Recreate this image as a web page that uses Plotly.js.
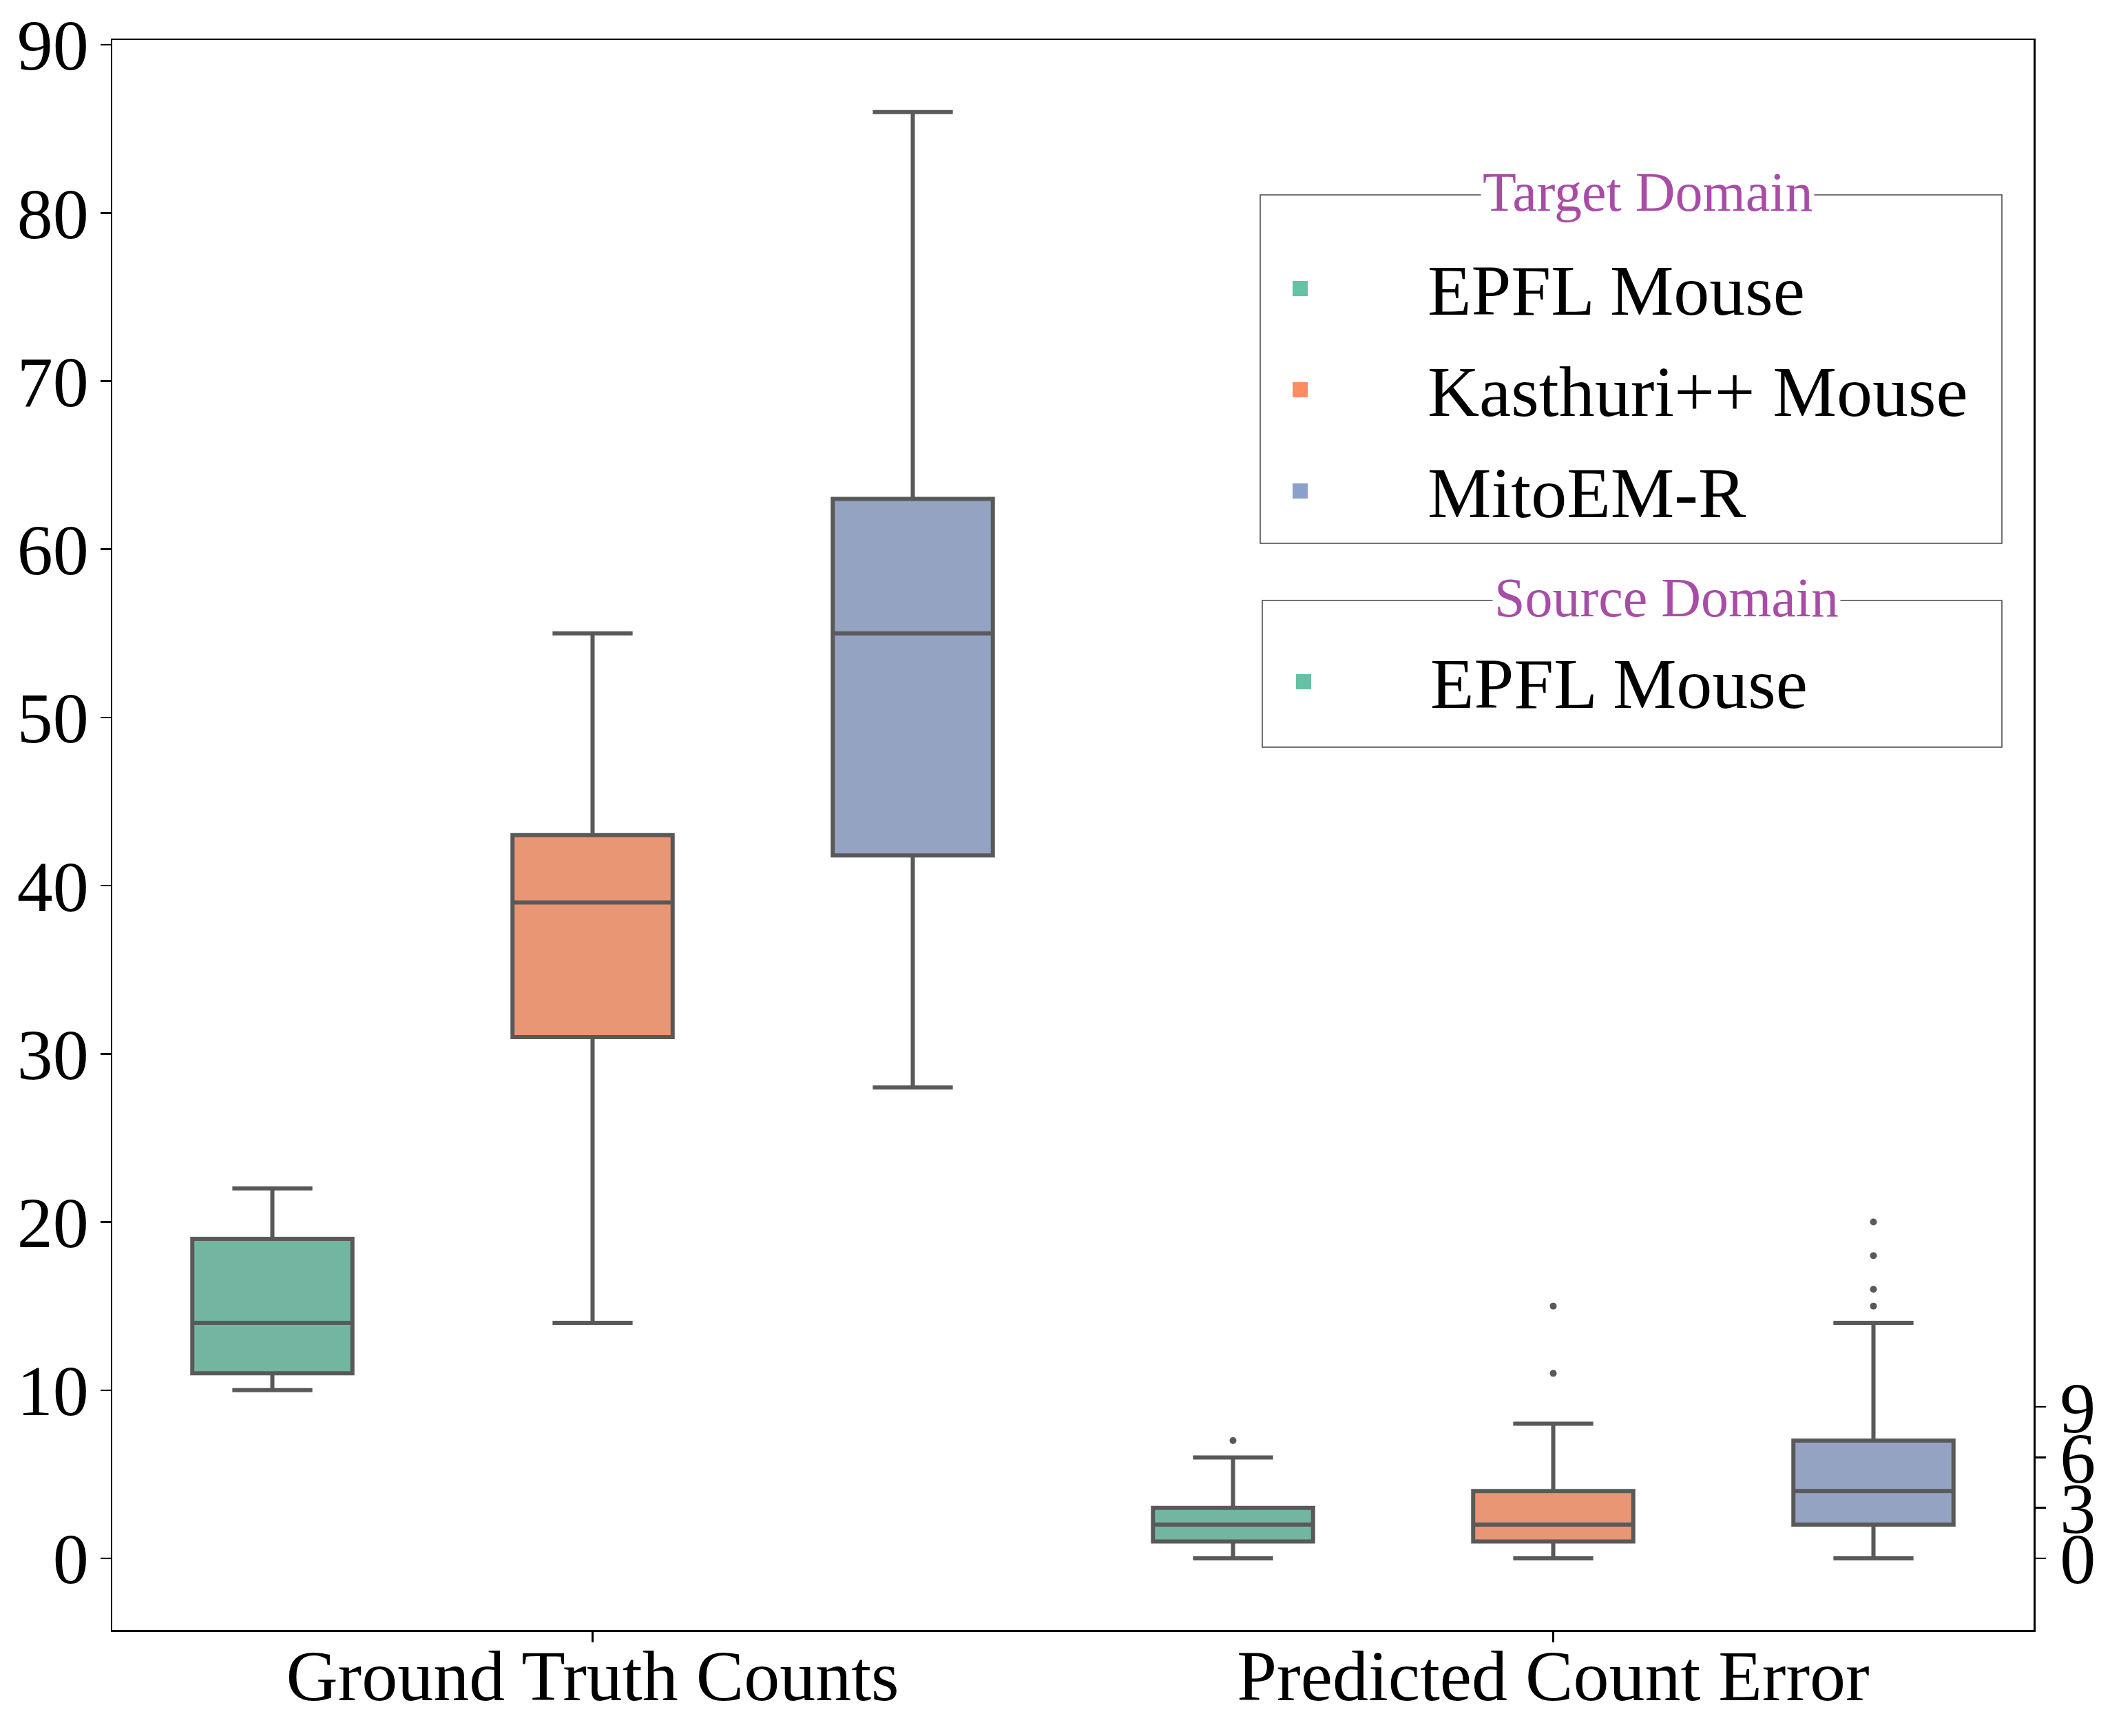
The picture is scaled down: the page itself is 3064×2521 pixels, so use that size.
<!DOCTYPE html>
<html>
<head>
<meta charset="utf-8">
<script src="https://cdn.plot.ly/plotly-3.0.1.min.js"></script>
<style>html,body{margin:0;padding:0;background:#fff;}#chart{width:3064px;height:2521px;}</style>
</head>
<body>
<div id="chart"></div>
<script>
// ---- data ----
const categories = ['Ground Truth Counts', 'Predicted Count Error'];
const domains = ['EPFL Mouse', 'Kasthuri++ Mouse', 'MitoEM-R'];
const sourceDomains = ['EPFL Mouse'];

const gtLowerFence = [10, 14, 28];
const gtQ1 = [11, 31, 41.8];
const gtMedian = [14, 39, 55];
const gtQ3 = [19, 43, 63];
const gtUpperFence = [22, 55, 86];

const errLowerFence = [0, 0, 0];
const errQ1 = [1, 1, 2];
const errMedian = [2, 2, 4];
const errQ3 = [3, 4, 7];
const errUpperFence = [6, 8, 14];
const errOutliers = [[7], [11, 15], [15, 16, 18, 20]];

const leftTicks = [0, 10, 20, 30, 40, 50, 60, 70, 80, 90];
const rightTicks = [0, 3, 6, 9];

const boxColors = ['#72b6a1', '#e99675', '#95a3c3'];
const legendColors = ['#66c2a5', '#fc8d62', '#8da0cb'];
const sourceColors = ['#66c2a5'];

// ---- layout constants ----
const W = 3064, H = 2521;
const L = 163, R = 2953, T = 58, B = 2367;
const lineGray = '#595959';
const FONT = 'Liberation Serif, Times New Roman, serif';
const yRange = [-4.26, 90.29];
const hueOffset = [-1/3, 0, 1/3];
const boxW = 1/6;

const px = x => (x - L) / (R - L);
const py = y => (B - y) / (B - T);

const traces = [];
const groups = [
  {lf: gtLowerFence, q1: gtQ1, med: gtMedian, q3: gtQ3, uf: gtUpperFence, axis: 'y', out: null},
  {lf: errLowerFence, q1: errQ1, med: errMedian, q3: errQ3, uf: errUpperFence, axis: 'y2', out: errOutliers}
];
groups.forEach((g, gi) => {
  domains.forEach((d, h) => {
    const xpos = gi + hueOffset[h];
    traces.push({
      type: 'box', name: d, showlegend: false,
      x: [xpos], q1: [g.q1[h]], median: [g.med[h]], q3: [g.q3[h]],
      lowerfence: [g.lf[h]], upperfence: [g.uf[h]],
      width: boxW, whiskerwidth: 0.5, boxpoints: false,
      fillcolor: boxColors[h], line: {color: lineGray, width: 6},
      xaxis: 'x', yaxis: g.axis, hoverinfo: 'skip'
    });
    if (g.out) {
      traces.push({
        type: 'scatter', mode: 'markers', showlegend: false,
        x: g.out[h].map(() => xpos), y: g.out[h],
        marker: {color: lineGray, size: 10, symbol: 'circle'},
        xaxis: 'x', yaxis: g.axis, hoverinfo: 'skip'
      });
    }
  });
});

// ---- legend boxes (shapes + annotations) ----
const shapes = [];
const annotations = [];
function legendBox(title, labels, colors, x0, x1, y0, y1, titleX, rowStart, rowGap, sqX, txtX) {
  shapes.push({type: 'rect', xref: 'paper', yref: 'paper', x0: px(x0), x1: px(x1), y0: py(y1), y1: py(y0),
    line: {color: '#444', width: 1.5}, fillcolor: 'rgba(255,255,255,0)'});
  labels.forEach((lab, i) => {
    const cy = rowStart + i * rowGap;
    shapes.push({type: 'rect', xref: 'paper', yref: 'paper', x0: px(sqX - 11), x1: px(sqX + 11),
      y0: py(cy + 11), y1: py(cy - 11), line: {width: 0}, fillcolor: colors[i]});
    annotations.push({xref: 'paper', yref: 'paper', x: px(txtX - 6), y: py(cy + 2), xanchor: 'left', yanchor: 'middle',
      text: lab, showarrow: false, font: {family: FONT, size: 104, color: '#000'}});
  });
  annotations.push({xref: 'paper', yref: 'paper', x: px(titleX), y: py(y0 - 4), xanchor: 'center', yanchor: 'middle',
    text: title, showarrow: false, bgcolor: '#fff', borderpad: 2,
    font: {family: FONT, size: 80, color: '#a84ca6'}});
}
legendBox('Target Domain', domains, legendColors, 1830, 2907, 283, 789, 2392, 419, 147, 1888, 2077);
legendBox('Source Domain', sourceDomains, sourceColors, 1833, 2907, 872, 1085, 2420, 990, 147, 1893, 2081);

const layout = {
  width: W, height: H,
  margin: {l: L, r: W - R, t: T, b: H - B, pad: 0},
  paper_bgcolor: '#fff', plot_bgcolor: '#fff',
  showlegend: false,
  font: {family: FONT, color: '#000'},
  xaxis: {
    range: [-0.5, 1.5], tickmode: 'array', tickvals: [0, 1], ticktext: categories,
    showgrid: false, zeroline: false, showline: true, linecolor: '#000', linewidth: 2.5, mirror: true,
    ticks: 'outside', ticklen: 15, tickwidth: 2.5, tickcolor: '#000', ticklabelstandoff: -40,
    tickfont: {family: FONT, size: 104, color: '#000'}
  },
  yaxis: {
    range: yRange, tickmode: 'array', tickvals: leftTicks, ticktext: leftTicks.map(String),
    showgrid: false, zeroline: false, showline: true, linecolor: '#000', linewidth: 2.5, mirror: true,
    ticks: 'outside', ticklen: 15, tickwidth: 2.5, tickcolor: '#000', ticklabelstandoff: -4,
    tickfont: {family: FONT, size: 104, color: '#000'}
  },
  yaxis2: {
    overlaying: 'y', side: 'right', range: yRange,
    tickmode: 'array', tickvals: rightTicks, ticktext: rightTicks.map(String),
    showgrid: false, zeroline: false, showline: true, linecolor: '#000', linewidth: 2.5,
    ticks: 'outside', ticklen: 15, tickwidth: 2.5, tickcolor: '#000',
    tickfont: {family: FONT, size: 104, color: '#000'}
  },
  boxmode: 'overlay',
  shapes: shapes,
  annotations: annotations
};

Plotly.newPlot('chart', traces, layout, {displayModeBar: false, staticPlot: true});
</script>
</body>
</html>
